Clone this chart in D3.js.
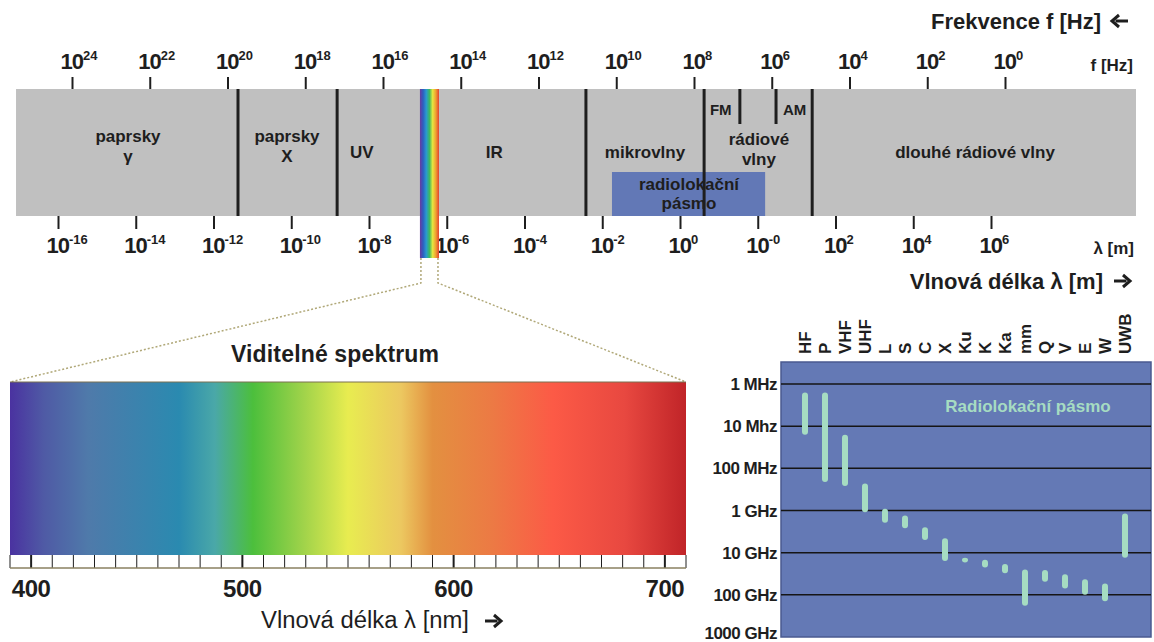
<!DOCTYPE html>
<html>
<head>
<meta charset="utf-8">
<script src="https://cdn.jsdelivr.net/npm/d3@7"></script>
<style>
  body { margin: 0; background: #fff; }
  svg { display: block; font-family: "Liberation Sans", Arial, sans-serif; }
  text { fill: #1e1e1e; }
</style>
</head>
<body>
<svg id="chart" width="1154" height="642"></svg>
<script>
// --- top strip: frequency / wavelength (log10 exponents) ---
const freqTickExps = [24, 22, 20, 18, 16, 14, 12, 10, 8, 6, 4, 2, 0];
const waveTickLabels = ["-16", "-14", "-12", "-10", "-8", "-6", "-4", "-2", "0", "-0", "2", "4", "6"];
const stripExtent = [25.44, -3.37];
const fullDividers = [19.73, 17.18, 10.78, 7.74, 4.96];
const shortDividers = [6.82, 5.89];
const visibleBand = [15.05, 14.56];
const radarBand = [10.11, 6.17];
const regionLabels = [
  { lines: ["paprsky", "γ"], exp: 22.56, anchor: "middle" },
  { lines: ["paprsky", "X"], exp: 18.47, anchor: "middle" },
  { lines: ["UV"], exp: 16.85, anchor: "start" },
  { lines: ["IR"], exp: 13.14, anchor: "middle" },
  { lines: ["mikrovlny"], exp: 9.26, anchor: "middle" },
  { lines: ["rádiové", "vlny"], exp: 6.33, anchor: "middle" },
  { lines: ["dlouhé rádiové vlny"], exp: 0.77, anchor: "middle" }
];
const smallLabels = [{ text: "FM", exp: 7.59 }, { text: "AM", exp: 5.71 }];

// --- visible spectrum (nm) ---
const spectrumNm = [390, 406, 427, 470, 487, 505, 529, 550, 575, 590, 618, 647, 681, 710];
const spectrumColors = ["#4a32a0", "#4f5aa5", "#4f7aaa", "#2a8ab0", "#4aa8a8", "#4cbf3c", "#a0d34a",
  "#e8ec50", "#ecc860", "#e39040", "#ec7a44", "#fc5a46", "#e84840", "#c02428"];
const nmLabels = [400, 500, 600, 700];

// --- radar bands (MHz) ---
const radarNames = ["HF", "P", "VHF", "UHF", "L", "S", "C", "X", "Ku", "K", "Ka", "mm", "Q", "V", "E", "W", "UWB"];
const radarLow = [1.6, 1.6, 16, 230, 910, 1320, 2500, 4570, 13200, 14800, 18600, 25100, 25700, 32400, 42700, 53700, 1180];
const radarHigh = [16, 210, 263, 1100, 1950, 2630, 5010, 15800, 17000, 22400, 30900, 182000, 49000, 70800, 100000, 141000, 13200];
const radarTicks = [1, 10, 100, 1000, 10000, 100000, 1000000];
const radarTickLabels = ["1 MHz", "10 Mhz", "100 MHz", "1 GHz", "10 GHz", "100 GHz", "1000 GHz"];

const svg = d3.select("#chart");
const ink = "#1e1e1e";

// ================= top strip =================
const fx = d3.scaleLinear().domain([24, 0]).range([72, 1005]);
const barTop = 89, barBottom = 216;

svg.append("rect")
  .attr("x", fx(stripExtent[0])).attr("y", barTop)
  .attr("width", fx(stripExtent[1]) - fx(stripExtent[0]))
  .attr("height", barBottom - barTop)
  .attr("fill", "#c0c0c0");

// radiolokacni pasmo box
svg.append("rect")
  .attr("x", fx(radarBand[0])).attr("y", 172)
  .attr("width", fx(radarBand[1]) - fx(radarBand[0]))
  .attr("height", barBottom - 172)
  .attr("fill", "#6278b6");
svg.append("text").attr("x", fx(8.13)).attr("y", 190).attr("text-anchor", "middle")
  .attr("font-size", 17).attr("font-weight", "bold").text("radiolokační");
svg.append("text").attr("x", fx(8.13)).attr("y", 209).attr("text-anchor", "middle")
  .attr("font-size", 17).attr("font-weight", "bold").text("pásmo");

svg.selectAll(".div-full").data(fullDividers).enter().append("line")
  .attr("x1", d => fx(d)).attr("x2", d => fx(d))
  .attr("y1", barTop).attr("y2", barBottom)
  .attr("stroke", ink).attr("stroke-width", 3);
svg.selectAll(".div-short").data(shortDividers).enter().append("line")
  .attr("x1", d => fx(d)).attr("x2", d => fx(d))
  .attr("y1", barTop).attr("y2", 124)
  .attr("stroke", ink).attr("stroke-width", 3);

regionLabels.forEach(r => {
  const y0 = r.lines[0] === "paprsky" ? 142 : (r.lines.length > 1 ? 145 : 158);
  const t = svg.append("text")
    .attr("x", fx(r.exp)).attr("y", y0)
    .attr("text-anchor", r.anchor)
    .attr("font-size", 17).attr("font-weight", "bold");
  r.lines.forEach((l, i) => {
    t.append("tspan").attr("x", fx(r.exp)).attr("dy", i ? 20 : 0).text(l);
  });
});

smallLabels.forEach(s => {
  svg.append("text").attr("x", fx(s.exp)).attr("y", 115)
    .attr("font-size", 15).attr("font-weight", "bold").text(s.text);
});

// axes
function powerLabels(sel, exps) {
  sel.selectAll(".tick text").each(function (d, i) {
    const t = d3.select(this).text("").attr("text-anchor", "start").attr("x", -12)
      .attr("font-size", 22).attr("font-weight", "bold").attr("letter-spacing", -1).attr("fill", ink);
    t.append("tspan").text("10");
    t.append("tspan").attr("dy", -9).attr("font-size", 13).attr("letter-spacing", 0).text(exps[i]);
  });
}

const topAxis = svg.append("g").attr("transform", `translate(0,${barTop})`)
  .call(d3.axisTop(fx).tickValues(freqTickExps).tickSize(12).tickPadding(8));
topAxis.select(".domain").remove();
topAxis.selectAll(".tick line").attr("stroke", ink).attr("stroke-width", 2);
powerLabels(topAxis, freqTickExps.map(String));

const wx = d3.scaleLinear().domain([0, waveTickLabels.length - 1]).range([58, 991]);
const bottomAxis = svg.append("g").attr("transform", `translate(0,${barBottom})`)
  .call(d3.axisBottom(wx).tickValues(d3.range(waveTickLabels.length)).tickSize(13).tickPadding(0));
bottomAxis.select(".domain").remove();
bottomAxis.selectAll(".tick line").attr("stroke", ink).attr("stroke-width", 2);
bottomAxis.selectAll(".tick text").attr("dy", null).attr("y", 37);
powerLabels(bottomAxis, waveTickLabels);

// visible band stripe (drawn over the axis labels, as in the picture)
const defs = svg.append("defs");
const rainbow = defs.append("linearGradient").attr("id", "rainbow");
["#6a3aa0", "#2d5fc0", "#2a9ad0", "#3cb860", "#e6e640", "#f0a030", "#e04030"].forEach((c, i, a) => {
  rainbow.append("stop").attr("offset", i / (a.length - 1)).attr("stop-color", c);
});
svg.append("rect")
  .attr("x", fx(visibleBand[0])).attr("y", barTop)
  .attr("width", fx(visibleBand[1]) - fx(visibleBand[0]))
  .attr("height", 258 - barTop)
  .attr("fill", "url(#rainbow)");

svg.append("text").attr("x", 1133).attr("y", 71).attr("text-anchor", "end")
  .attr("font-size", 17).attr("font-weight", "bold").text("f [Hz]");
svg.append("text").attr("x", 1134).attr("y", 254).attr("text-anchor", "end")
  .attr("font-size", 17).attr("font-weight", "bold").text("λ [m]");

svg.append("text").attr("x", 1101).attr("y", 29).attr("text-anchor", "end")
  .attr("font-size", 22).attr("font-weight", "bold").text("Frekvence f [Hz]");
svg.append("text").attr("x", 1103).attr("y", 289).attr("text-anchor", "end")
  .attr("font-size", 22).attr("font-weight", "bold").text("Vlnová délka λ [m]");

function arrow(x, y, dir, len, w) {
  const h = dir * 7;
  svg.append("path")
    .attr("d", `M${x - dir * len / 2},${y}H${x + dir * len / 2 - h / 2}`)
    .attr("stroke", ink).attr("stroke-width", w).attr("fill", "none");
  svg.append("path")
    .attr("d", `M${x + dir * len / 2 - h},${y - 6}L${x + dir * len / 2},${y}L${x + dir * len / 2 - h},${y + 6}`)
    .attr("stroke", ink).attr("stroke-width", w).attr("fill", "none").attr("stroke-linejoin", "miter");
}
arrow(1120, 21, -1, 16, 3);
arrow(1122, 281, 1, 16, 3);

// ================= visible spectrum =================
const nx = d3.scaleLinear().domain([390, 710]).range([10, 686]);
const specTop = 382, specBottom = 555, bandBottom = 568;

svg.append("path")
  .attr("d", `M${fx(visibleBand[0]) + 1},258V283L${nx(390)},${specTop}M${fx(visibleBand[1]) - 1},258V283L${nx(710)},${specTop}`)
  .attr("fill", "none").attr("stroke", "#b0a878").attr("stroke-width", 1.5).attr("stroke-dasharray", "2,2");

const specGrad = defs.append("linearGradient").attr("id", "spec");
spectrumNm.forEach((nm, i) => {
  specGrad.append("stop").attr("offset", (nm - 390) / 320).attr("stop-color", spectrumColors[i]);
});
svg.append("rect")
  .attr("x", nx(390)).attr("y", specTop)
  .attr("width", nx(710) - nx(390)).attr("height", specBottom - specTop)
  .attr("fill", "url(#spec)");
svg.append("line").attr("x1", nx(390)).attr("x2", nx(710)).attr("y1", specTop).attr("y2", specTop)
  .attr("stroke", "#7a7050").attr("stroke-width", 1);

svg.append("rect")
  .attr("x", nx(390)).attr("y", specBottom)
  .attr("width", nx(710) - nx(390)).attr("height", bandBottom - specBottom)
  .attr("fill", "#fff");
svg.selectAll(".nm-tick").data(d3.range(390, 711, 10)).enter().append("line")
  .attr("x1", d => nx(d)).attr("x2", d => nx(d))
  .attr("y1", specBottom).attr("y2", bandBottom)
  .attr("stroke", ink).attr("stroke-width", d => d % 100 === 0 ? 2 : 1);
svg.append("line").attr("x1", nx(390)).attr("x2", nx(710)).attr("y1", bandBottom).attr("y2", bandBottom)
  .attr("stroke", "#8a8060").attr("stroke-width", 1.5);

svg.selectAll(".nm-label").data(nmLabels).enter().append("text")
  .attr("x", d => nx(d)).attr("y", 597).attr("text-anchor", "middle")
  .attr("font-size", 24).attr("font-weight", "bold").attr("letter-spacing", -0.5)
  .text(d => d);

svg.append("text").attr("x", 335).attr("y", 362).attr("text-anchor", "middle")
  .attr("font-size", 23).attr("font-weight", "bold").attr("textLength", 208).text("Viditelné spektrum");
svg.append("text").attr("x", 261).attr("y", 628)
  .attr("font-size", 23).attr("textLength", 208).attr("lengthAdjust", "spacingAndGlyphs")
  .text("Vlnová délka λ [nm]");
arrow(493, 621, 1, 16, 3);

// ================= radar bands =================
const rLeft = 781, rRight = 1151, rTop = 362, rBottom = 637;
const ry = d3.scaleLog().domain([1, 1000000]).range([384, rBottom]);
const rx = d3.scalePoint().domain(radarNames).range([805, 1125]);

svg.append("rect").attr("x", rLeft).attr("y", rTop)
  .attr("width", rRight - rLeft).attr("height", rBottom - rTop)
  .attr("fill", "#6479b5").attr("stroke", "#4a5a90").attr("stroke-width", 1.5);

svg.selectAll(".r-grid").data(radarTicks.slice(0, -1)).enter().append("line")
  .attr("x1", rLeft).attr("x2", rRight)
  .attr("y1", d => ry(d)).attr("y2", d => ry(d))
  .attr("stroke", "#151515").attr("stroke-width", 1.5);

svg.selectAll(".r-label").data(radarTicks).enter().append("text")
  .attr("x", 777).attr("y", d => Math.min(ry(d) + 6, 639))
  .attr("text-anchor", "end").attr("font-size", 17).attr("font-weight", "bold")
  .attr("letter-spacing", -0.5)
  .text((d, i) => radarTickLabels[i]);

svg.selectAll(".r-cat").data(radarNames).enter().append("text")
  .attr("transform", d => `translate(${rx(d) + 6},354) rotate(-90)`)
  .attr("font-size", 17).attr("font-weight", "bold")
  .text(d => d);

svg.selectAll(".r-bar").data(radarNames).enter().append("rect")
  .attr("x", d => rx(d) - 3).attr("width", 6)
  .attr("y", (d, i) => ry(radarLow[i]))
  .attr("height", (d, i) => ry(radarHigh[i]) - ry(radarLow[i]))
  .attr("rx", 3)
  .attr("fill", "#a6dcc2");

svg.append("text").attr("x", 1028).attr("y", 412).attr("text-anchor", "middle")
  .attr("font-size", 17).attr("font-weight", "bold").style("fill", "#a6dcc2")
  .text("Radiolokační pásmo");
</script>
</body>
</html>
